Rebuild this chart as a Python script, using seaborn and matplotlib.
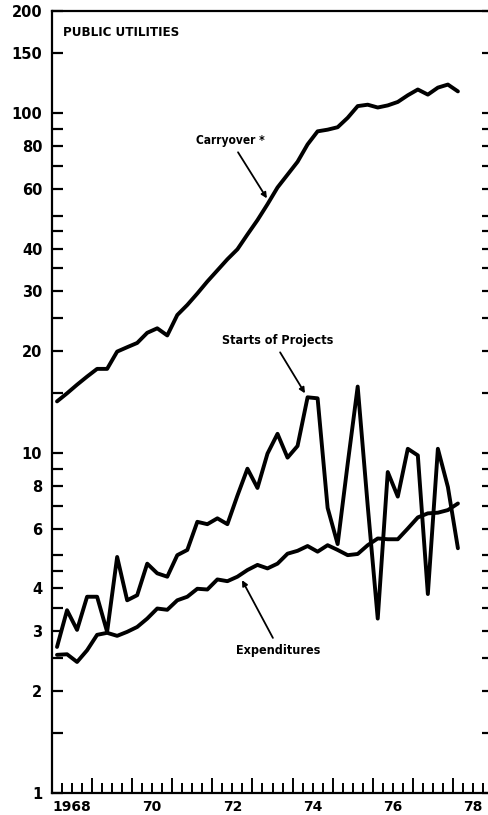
import numpy as np
import pandas as pd
import seaborn as sns
import matplotlib.pyplot as plt
from matplotlib.ticker import FixedLocator, NullFormatter, FixedFormatter

# ---------------- DATA (quarterly, 1968Q1 - 1978Q1) ------------------
quarters = pd.period_range("1968Q1", "1978Q1", freq="Q")
carryover = [14.2, 15.0, 15.9, 16.8, 17.7, 17.7, 19.9, 20.5, 21.1, 22.6, 23.3,
             22.2, 25.5, 27.3, 29.5, 32.0, 34.5, 37.2, 39.8, 44.0, 48.5, 54.0,
             60.5, 66.0, 72.0, 81.0, 88.5, 89.5, 91.0, 97.0, 105.0, 106.0,
             104.0, 105.5, 108.0, 113.0, 117.5, 113.5, 119.0, 121.5, 116.0]
starts = [2.69, 3.45, 3.02, 3.78, 3.78, 2.98, 4.95, 3.69, 3.82, 4.73, 4.43,
          4.33, 5.01, 5.19, 6.28, 6.18, 6.43, 6.18, 7.5, 9.0, 7.9, 9.97, 11.4,
          9.7, 10.5, 14.6, 14.5, 6.9, 5.4, 9.3, 15.7, 7.0, 3.26, 8.8, 7.45,
          10.3, 9.85, 3.85, 10.3, 7.95, 5.25]
expenditures = [2.55, 2.56, 2.43, 2.63, 2.92, 2.96, 2.90, 2.98, 3.08, 3.26,
                3.49, 3.46, 3.69, 3.78, 3.99, 3.97, 4.25, 4.20, 4.33, 4.53,
                4.69, 4.58, 4.73, 5.06, 5.16, 5.33, 5.13, 5.36, 5.19, 5.01,
                5.05, 5.36, 5.61, 5.58, 5.58, 6.0, 6.47, 6.65, 6.68, 6.8, 7.11]

y_major = [1, 2, 3, 4, 6, 8, 10, 20, 30, 40, 60, 80, 100, 150, 200]
y_minor = [1.5, 2.5, 3.5, 4.5, 5, 7, 9, 15, 25, 35, 45, 50, 70, 90]
x_labels = ["1968", "70", "72", "74", "76", "78"]
x_label_pos = [1968.5, 1970.5, 1972.5, 1974.5, 1976.5, 1978.5]

# mid-quarter positions in decimal years
t = quarters.year + (quarters.quarter - 1) / 4 + 0.125
df = pd.DataFrame({"t": t, "Carryover": carryover, "Starts": starts,
                   "Expenditures": expenditures})
long = df.melt(id_vars="t", var_name="series", value_name="value")

# ---------------- PLOT ------------------
sns.set_style("ticks")
plt.rcParams["font.family"] = ["DejaVu Sans"]
plt.rcParams["text.color"] = "black"
plt.rcParams["xtick.color"] = "black"
plt.rcParams["ytick.color"] = "black"
narrow = dict(family=["DejaVu Sans"], fontstretch="condensed",
              fontweight="bold", color="black")

fig = plt.figure(figsize=(4.88, 8.15), dpi=100)
ax = fig.add_axes([52 / 488, 22 / 815, 441 / 488, 782 / 815])

sns.lineplot(data=long, x="t", y="value", hue="series", units="series",
             estimator=None, palette=["black"] * 3, linewidth=2.8,
             legend=False, ax=ax)

ax.set_yscale("log")
ax.set_ylim(1, 200)
ax.set_xlim(1968, 1979)
ax.set_xlabel("")
ax.set_ylabel("")

for s in ax.spines.values():
    s.set_linewidth(1.6)
    s.set_color("black")

ax.yaxis.set_major_locator(FixedLocator(y_major))
ax.yaxis.set_major_formatter(FixedFormatter([str(v) for v in y_major]))
ax.yaxis.set_minor_locator(FixedLocator(y_minor))
ax.yaxis.set_minor_formatter(NullFormatter())
ax.tick_params(axis="y", which="both", direction="in", left=True, right=True,
               length=8, width=1.6, pad=7, labelsize=10.5, color="black",
               labelcolor="black")
for lab in ax.get_yticklabels():
    lab.set_fontweight("bold")

ax.xaxis.set_major_locator(FixedLocator(np.arange(1968, 1980)))
ax.xaxis.set_major_formatter(NullFormatter())
ax.xaxis.set_minor_locator(FixedLocator(np.arange(1968, 1979.01, 0.25)))
ax.tick_params(axis="x", which="major", direction="in", length=11, width=1.4,
               color="black")
ax.tick_params(axis="x", which="minor", direction="in", length=7, width=1.4,
               color="black")
for xp, lab in zip(x_label_pos, x_labels):
    ax.text(xp, -0.009, lab, transform=ax.get_xaxis_transform(), ha="center",
            va="top", fontsize=10, fontweight="bold", color="black")

# ---------------- LABELS ------------------
ax.text(0.025, 0.972, "PUBLIC UTILITIES", transform=ax.transAxes, ha="left",
        va="center", fontsize=9.5, **narrow)

ax.text(1972.44, 83.3, "Carryover *", ha="center", va="center", fontsize=8.6,
        **narrow)
ax.annotate("", xy=(1973.36, 56.2), xytext=(1972.64, 76.8),
            arrowprops=dict(arrowstyle="-|>", color="black", lw=1.3,
                            mutation_scale=8, shrinkA=0, shrinkB=0))

ax.text(1973.64, 21.4, "Starts of Projects", ha="center", va="center",
        fontsize=9, **narrow)
ax.annotate("", xy=(1974.31, 15.0), xytext=(1973.69, 19.8),
            arrowprops=dict(arrowstyle="-|>", color="black", lw=1.3,
                            mutation_scale=8, shrinkA=0, shrinkB=0))

ax.text(1973.64, 2.63, "Expenditures", ha="center", va="center",
        fontsize=9, **narrow)
ax.annotate("", xy=(1972.74, 4.23), xytext=(1973.51, 2.86),
            arrowprops=dict(arrowstyle="-|>", color="black", lw=1.3,
                            mutation_scale=8, shrinkA=0, shrinkB=0))

fig.savefig("out.png", dpi=100)
